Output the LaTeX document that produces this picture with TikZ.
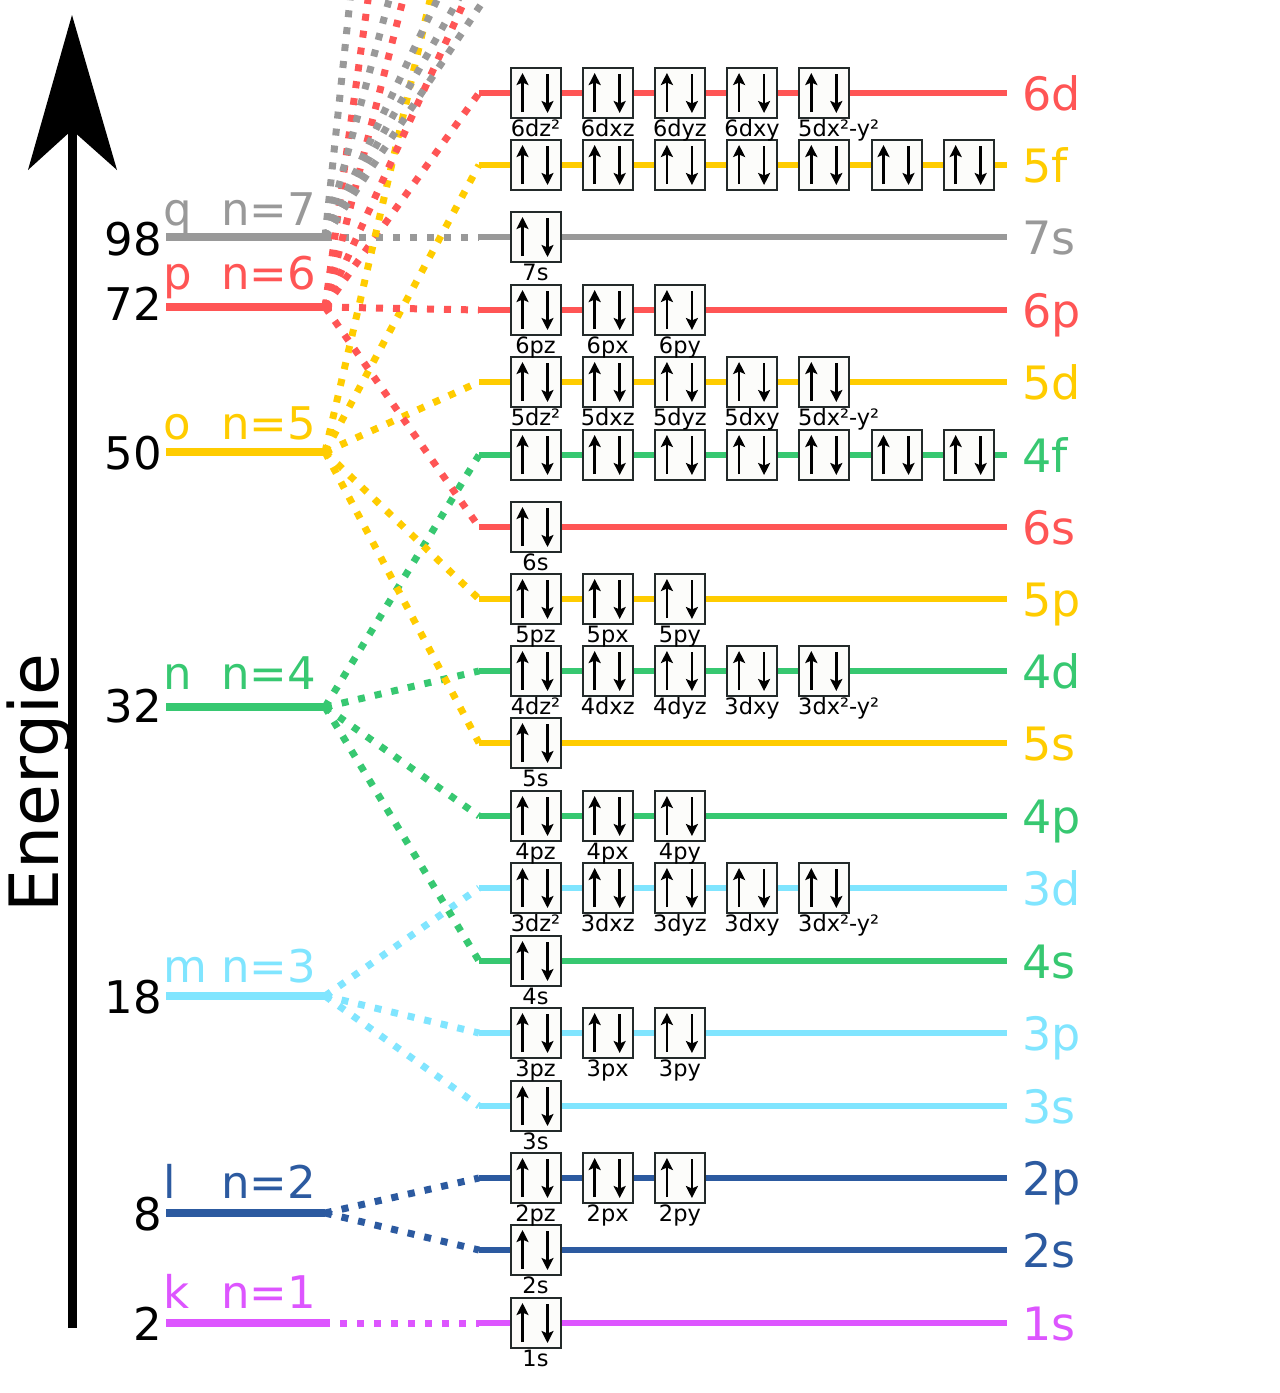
\documentclass[tikz,border=0pt]{standalone}
\usepackage{fontspec}
\setmainfont{DejaVu Sans}
\usetikzlibrary{arrows.meta}
\definecolor{cred}{HTML}{FF5555}
\definecolor{cyel}{HTML}{FFCC00}
\definecolor{cgray}{HTML}{999999}
\definecolor{cgreen}{HTML}{37C871}
\definecolor{clblue}{HTML}{80E5FF}
\definecolor{cblue}{HTML}{2C5AA0}
\definecolor{cmag}{HTML}{DD55FF}
\definecolor{boxc}{HTML}{232A2A}
\definecolor{boxf}{HTML}{FCFCFA}
\tikzset{
  lvlL/.style={line width=8.5pt},
  lvlR/.style={line width=6.5pt},
  conn/.style={line width=7pt, dash pattern=on 7pt off 10pt},
  orb/.style={draw=boxc, fill=boxf, line width=2pt, minimum width=50pt, minimum height=50pt, inner sep=0pt},
  spin/.style={line width=2.6pt, -{Stealth[length=12pt,width=12pt,inset=2.5pt]}},
  orbital/.pic={
    \node[orb] (-b) at (0,0) {};
    \draw[spin] (-13,19) -- (-13,-20);
    \draw[spin] (12,-19) -- (12,20);
  },
  sub/.style={font=\fontsize{22.5}{24}\selectfont, anchor=base, inner sep=0pt},
  subw/.style={font=\fontsize{22.5}{24}\selectfont, anchor=base west, inner sep=0pt},
  rlab/.style={font=\fontsize{46}{50}\selectfont, anchor=base west, inner sep=0pt},
  numlab/.style={font=\fontsize{45}{50}\selectfont, anchor=base east, inner sep=0pt},
  shlab/.style={font=\fontsize{45}{50}\selectfont, anchor=base west, inner sep=0pt},
}
\begin{document}
\begin{tikzpicture}[x=1pt,y=-1pt]
\useasboundingbox (0,0) rectangle (1280,1393);

% ---- energy axis
\coordinate (ax0) at (72,1328);
\coordinate (ax1) at (72,130);
\coordinate (axtip) at (72,15);
\coordinate (axl) at (28,170);
\coordinate (axr) at (117,170);
\draw[line width=9pt] (ax0) -- (ax1);
\fill (axtip) -- (axr) -- (ax1) -- (axl) -- cycle;
\node[rotate=90, anchor=base, inner sep=0pt, font=\fontsize{68}{72}\selectfont] (energie) at (58,783) {Energie};

% ---- right level coordinates
\foreach \nm/\yy in {6d/93,5f/165,7s/237,6p/310,5d/382,4f/455,6s/527,5p/599,4d/671,5s/743,4p/816,3d/888,4s/961,3p/1033,3s/1106,2p/1178,2s/1250,1s/1323}{
  \coordinate (R\nm) at (479,\yy);
  \coordinate (E\nm) at (1007,\yy);
}

% ---- left levels
\foreach \nm/\yy/\col/\letter/\num/\lb/\nb/\xe in {7/237/cgray/q/98/225/255/325, 6/307/cred/p/72/289/320/325, 5/452/cyel/o/50/439/469/325, 4/707/cgreen/n/32/689/722/325, 3/996/clblue/m/18/982/1013/325, 2/1213/cblue/l/8/1198/1230/325, 1/1323/cmag/k/2/1308/1340/330}{
  \coordinate (S\nm) at (166,\yy);
  \coordinate (L\nm) at (\xe,\yy);
  \draw[lvlL,\col] (S\nm) -- (L\nm);
  \node[numlab] (num\nm) at (162,\nb) {\num};
  \node[shlab,text=\col] (let\nm) at (163,\lb) {\letter};
  \node[shlab,text=\col] (nn\nm) at (221,\lb) {n=\nm};
}
\coordinate (L1d) at (340,1323);

% ---- connectors
\draw[conn,cmag] (L1d) -- (R1s);
\foreach \t in {2s,2p} \draw[conn,cblue] (L2) -- (R\t);
\foreach \t in {3s,3p,3d} \draw[conn,clblue] (L3) -- (R\t);
\foreach \t in {4s,4p,4d,4f} \draw[conn,cgreen] (L4) -- (R\t);
\foreach \t in {5s,5p,5d,5f} \draw[conn,cyel] (L5) -- (R\t);
\foreach \t in {6s,6p,6d} \draw[conn,cred] (L6) -- (R\t);
\draw[conn,cgray] (L7) -- (R7s);
\begin{scope}
  \clip (0,0) rectangle (1280,1393);
  \coordinate (U5g) at (437,-30);
  \coordinate (U6f) at (372.2,-30);
  \coordinate (U6g) at (410.6,-30);
  \coordinate (U6h) at (478.7,-30);
  \coordinate (U7p) at (353.2,-30);
  \coordinate (U7d) at (397.1,-30);
  \coordinate (U7f) at (451.2,-30);
  \coordinate (U7g) at (474.8,-30);
  \coordinate (U7h) at (504.1,-30);
  \draw[conn,cyel] (L5) -- (U5g);
  \foreach \t in {6f,6g,6h} \draw[conn,cred] (L6) -- (U\t);
  \foreach \t in {7p,7d,7f,7g,7h} \draw[conn,cgray] (L7) -- (U\t);
\end{scope}

% ---- right level lines and labels
\foreach \nm/\col in {6d/cred,5f/cyel,7s/cgray,6p/cred,5d/cyel,4f/cgreen,6s/cred,5p/cyel,4d/cgreen,5s/cyel,4p/cgreen,3d/clblue,4s/cgreen,3p/clblue,3s/clblue,2p/cblue,2s/cblue,1s/cmag}{
  \draw[lvlR,\col] (R\nm) -- (E\nm);
  \node[rlab,text=\col] (T\nm) at ([shift={(15,17)}]E\nm) {\nm};
}

% ---- orbital boxes
\foreach \nm/\yy/\k in {6d/93/5,5f/165/7,7s/237/1,6p/310/3,5d/382/5,4f/455/7,6s/527/1,5p/599/3,4d/671/5,5s/743/1,4p/816/3,3d/888/5,4s/961/1,3p/1033/3,3s/1106/1,2p/1178/3,2s/1250/1,1s/1323/1}{
  \foreach \i in {1,...,\k}{
    \pic (o\nm\i) at ({535.5+72.2*(\i-1)},\yy) {orbital};
  }
}

% ---- orbital labels
\foreach \yy/\nm/\labs in {
  136/6d/{6dz²,6dxz,6dyz,6dxy},
  280/7s/{7s},
  353/6p/{6pz,6px,6py},
  425/5d/{5dz²,5dxz,5dyz,5dxy},
  570/6s/{6s},
  642/5p/{5pz,5px,5py},
  714/4d/{4dz²,4dxz,4dyz,3dxy},
  786/5s/{5s},
  859/4p/{4pz,4px,4py},
  931/3d/{3dz²,3dxz,3dyz,3dxy},
  1004/4s/{4s},
  1076/3p/{3pz,3px,3py},
  1149/3s/{3s},
  1221/2p/{2pz,2px,2py},
  1293/2s/{2s},
  1366/1s/{1s}}{
  \foreach \t [count=\i] in \labs {
    \node[sub] (l\nm\i) at ({535.5+72.2*(\i-1)},\yy) {\t};
  }
}
\node[subw] (l6d5) at (798,136) {5dx²-y²};
\node[subw] (l5d5) at (798,425) {5dx²-y²};
\node[subw] (l4d5) at (798,714) {3dx²-y²};
\node[subw] (l3d5) at (798,931) {3dx²-y²};
\end{tikzpicture}
\end{document}
